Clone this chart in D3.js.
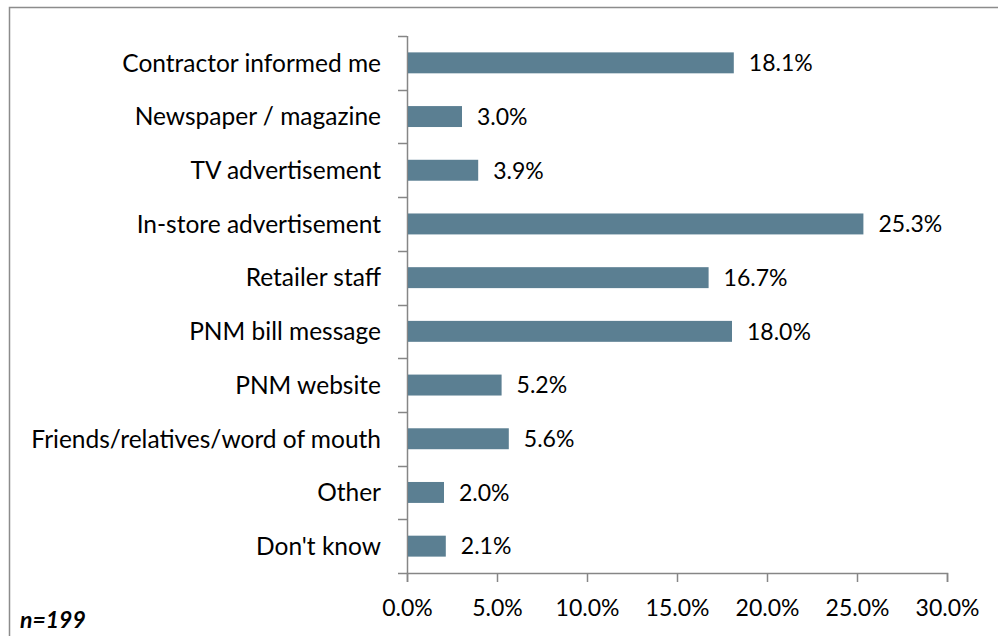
<!DOCTYPE html>
<html>
<head>
<meta charset="utf-8">
<script src="https://cdn.jsdelivr.net/npm/d3@7"></script>
<style>
  body { margin: 0; background: #fff; }
  svg { display: block; font-family: Lato, "Open Sans", sans-serif; }
</style>
</head>
<body>
<div id="chart"></div>
<script>
// categories top to bottom, share of respondents (%)
const categories = [
  'Contractor informed me',
  'Newspaper / magazine',
  'TV advertisement',
  'In-store advertisement',
  'Retailer staff',
  'PNM bill message',
  'PNM website',
  'Friends/relatives/word of mouth',
  'Other',
  "Don't know"
];
const values = [18.1, 3.0, 3.9, 25.3, 16.7, 18.0, 5.2, 5.6, 2.0, 2.1];
const tickValues = [0, 5, 10, 15, 20, 25, 30];
const sampleNote = 'n=199';

const width = 998, height = 636;
const margin = { top: 36, left: 407, right: 51, bottom: 63 };

const svg = d3.select('#chart')
  .append('svg')
  .attr('width', width)
  .attr('height', height);

// chart area border (runs off the right/bottom edge)
svg.append('rect')
  .attr('x', 9.5).attr('y', 7.5)
  .attr('width', 1100).attr('height', 700)
  .attr('fill', 'none')
  .attr('stroke', '#8c8c8c')
  .attr('stroke-width', 1.5);

const x = d3.scaleLinear()
  .domain([0, 30])
  .range([margin.left, width - margin.right]);

const y = d3.scaleBand()
  .domain(categories)
  .range([margin.top, height - margin.bottom])
  .paddingInner(0.61)
  .paddingOuter(0.305);

const axisColor = '#868686';

// y axis line + ticks between categories
const step = y.step();
const yTop = margin.top, yBottom = height - margin.bottom;
const g = svg.append('g');
g.append('line')
  .attr('x1', x(0) + 0.5).attr('x2', x(0) + 0.5)
  .attr('y1', yTop).attr('y2', yBottom)
  .attr('stroke', axisColor).attr('stroke-width', 1.5);
d3.range(categories.length + 1).forEach(i => {
  const yy = Math.round(yTop + i * step) + 0.5;
  g.append('line')
    .attr('x1', x(0) - 9).attr('x2', x(0))
    .attr('y1', yy).attr('y2', yy)
    .attr('stroke', axisColor).attr('stroke-width', 1.5);
});

// x axis
const xAxis = svg.append('g')
  .attr('transform', `translate(0, ${yBottom})`)
  .call(d3.axisBottom(x).tickValues(tickValues).tickSize(9).tickFormat(d => d.toFixed(1) + '%'));
xAxis.select('.domain').attr('stroke', axisColor).attr('stroke-width', 1.5);
xAxis.selectAll('.tick line').attr('stroke', axisColor).attr('stroke-width', 1.5);
xAxis.selectAll('.tick text')
  .attr('fill', '#000')
  .attr('font-size', 23)
  .attr('font-family', 'Lato, sans-serif')
  .attr('dy', null)
  .attr('y', 43);

// bars
svg.append('g')
  .selectAll('rect')
  .data(values)
  .join('rect')
  .attr('x', x(0) + 1)
  .attr('y', (d, i) => y(categories[i]))
  .attr('width', d => x(d) - x(0))
  .attr('height', y.bandwidth())
  .attr('fill', '#5b7f92');

// value labels
svg.append('g')
  .selectAll('text')
  .data(values)
  .join('text')
  .attr('x', d => x(d) + 16)
  .attr('y', (d, i) => y(categories[i]) + y.bandwidth() / 2)
  .attr('dy', '0.36em')
  .attr('font-size', 23)
  .attr('fill', '#000')
  .text(d => d.toFixed(1) + '%');

// category labels
svg.append('g')
  .selectAll('text')
  .data(categories)
  .join('text')
  .attr('x', x(0) - 26)
  .attr('y', d => y(d) + y.bandwidth() / 2)
  .attr('dy', '0.36em')
  .attr('text-anchor', 'end')
  .attr('font-size', 24.5)
  .attr('fill', '#000')
  .text(d => d);

svg.append('text')
  .attr('x', 20).attr('y', 628)
  .attr('font-size', 23)
  .attr('font-weight', 'bold')
  .attr('font-style', 'italic')
  .attr('fill', '#000')
  .text(sampleNote);
</script>
</body>
</html>
